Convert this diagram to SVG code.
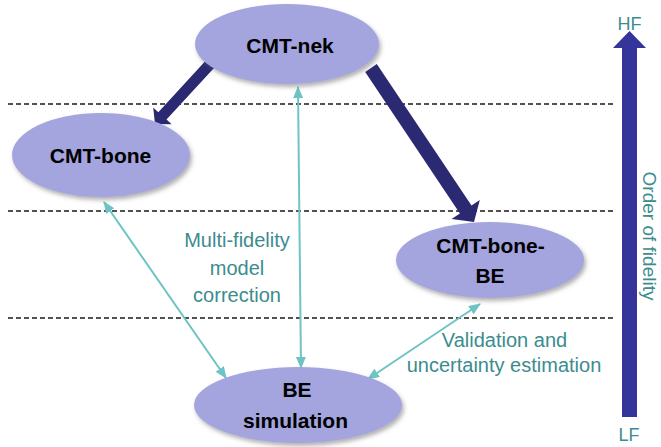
<svg xmlns="http://www.w3.org/2000/svg" width="661" height="447" viewBox="0 0 661 447">
<defs>
<filter id="sh" x="-20%" y="-20%" width="140%" height="150%">
<feDropShadow dx="2" dy="3" stdDeviation="2" flood-color="#555" flood-opacity="0.45"/>
</filter>
<marker id="ah" viewBox="0 0 12 10" refX="11" refY="5" markerWidth="12" markerHeight="10" markerUnits="userSpaceOnUse" orient="auto-start-reverse">
<path d="M0,0 L12,5 L0,10 Z" fill="#6EC4C4"/>
</marker>
</defs>
<style>
.node{fill:#A4A4DE;filter:url(#sh);}
.lbl{font-family:"Liberation Sans",Arial,sans-serif;font-weight:bold;font-size:21px;fill:#000;text-anchor:middle;}
.tl{font-family:"Liberation Sans",Arial,sans-serif;font-size:20px;fill:#3C8C8E;text-anchor:middle;}
.dash{stroke:#1a1a1a;stroke-width:1.3;stroke-dasharray:5 3;fill:none;}
.thin{stroke:#6EC4C4;stroke-width:2;fill:none;marker-start:url(#ah);marker-end:url(#ah);}
.thick{fill:#2A2972;}
</style>
<g id="levels">
<line class="dash" x1="8" y1="104" x2="615" y2="104"/>
<line class="dash" x1="8" y1="211" x2="615" y2="211"/>
<line class="dash" x1="8" y1="318" x2="615" y2="318"/>
</g>
<g id="fidelity-axis">
<polygon points="622,417 637,417 637,48 646,48 629.5,31 613,48 622,48" fill="#35349A"/>
<text class="tl" x="629.5" y="30" style="font-size:18px">HF</text>
<text class="tl" x="629" y="441" style="font-size:18px">LF</text>
<text class="tl" transform="translate(643,236) rotate(90)" style="font-size:19px">Order of fidelity</text>
</g>
<g id="connectors">
<polygon class="thick" points="216.1,65.7 166.5,119.6 171.6,124.3 155,124 153.2,107.5 158.3,112.2 207.9,58.3"/>
<polygon class="thick" points="365.2,71.9 459.9,213.4 451.6,219 474,222 479.8,200 471.5,205.6 376.8,64.1"/>
<line class="thin" x1="104" y1="202" x2="226" y2="378"/>
<line class="thin" x1="298" y1="87" x2="301" y2="368"/>
<line class="thin" x1="368" y1="379" x2="480" y2="304"/>
</g>
<g id="cmt-nek">
<ellipse class="node" cx="287" cy="44" rx="92" ry="40"/>
<text class="lbl" x="290" y="53">CMT-nek</text>
</g>
<g id="cmt-bone">
<ellipse class="node" cx="101" cy="155" rx="89" ry="42"/>
<text class="lbl" x="100.5" y="163">CMT-bone</text>
</g>
<g id="cmt-bone-be">
<ellipse class="node" cx="490" cy="260" rx="94" ry="38"/>
<text class="lbl" x="490.5" y="253">CMT-bone-</text>
<text class="lbl" x="490" y="283">BE</text>
</g>
<g id="be-simulation">
<ellipse class="node" cx="298" cy="405" rx="104" ry="38"/>
<text class="lbl" x="297" y="397">BE</text>
<text class="lbl" x="295.5" y="428">simulation</text>
</g>
<g id="labels">
<text class="tl" x="237" y="247">Multi-fidelity</text>
<text class="tl" x="237" y="275">model</text>
<text class="tl" x="237" y="302">correction</text>
<text class="tl" x="504.5" y="347">Validation and</text>
<text class="tl" x="504" y="372">uncertainty estimation</text>
</g>
</svg>
